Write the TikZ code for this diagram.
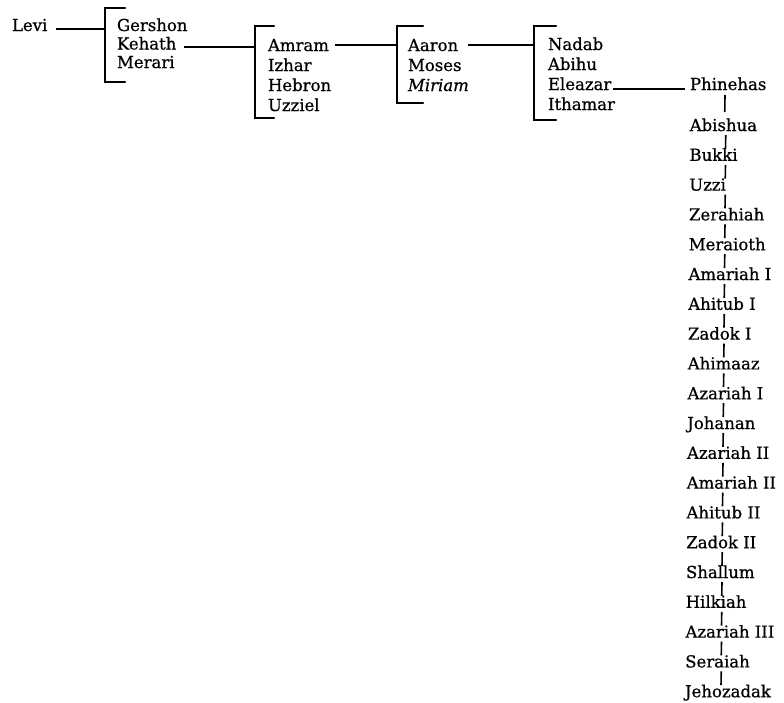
\documentclass[tikz,border=0pt]{standalone}
\usepackage{fontspec}
\setmainfont{DejaVu Serif}[FakeBold=0.7]
\usetikzlibrary{calc}
\begin{document}
\begin{tikzpicture}[x=1pt,y=-1pt,
  person/.style={anchor=base west,inner sep=0pt,outer sep=0pt,font=\fontsize{16.5}{20}\selectfont},
  link/.style={line width=1.6pt},
  bracket/.style={line width=2.3pt,line cap=round,line join=miter},
  chainlink/.style={line width=1.6pt}]
\useasboundingbox (0,0) rectangle (784,702);
\fill[white] (0,0) rectangle (784,702);

% generation 0
\node[person] (levi) at (12,31) {Levi};
% Levi's sons
\node[person] (gershon) at (117,31) {Gershon};
\node[person] (kehath) at (117,49.5) {Kehath};
\node[person] (merari) at (117,68) {Merari};
% Kehath's sons
\node[person] (amram) at (268,51) {Amram};
\node[person] (izhar) at (268,71) {Izhar};
\node[person] (hebron) at (268,91) {Hebron};
\node[person] (uzziel) at (268,111) {Uzziel};
% Amram's children
\node[person] (aaron) at (408,51) {Aaron};
\node[person] (moses) at (408,71) {Moses};
\node[person] (miriam) at (408,91) {\itshape Miriam};
% Aaron's sons
\node[person] (nadab) at (548,50) {Nadab};
\node[person] (abihu) at (548,70) {Abihu};
\node[person] (eleazar) at (548,90) {Eleazar};
\node[person] (ithamar) at (548,110) {Ithamar};

% brackets
\coordinate (b1top) at (105,8);   \coordinate (b1bot) at (105,82);
\coordinate (b2top) at (255,26);  \coordinate (b2bot) at (255,118);
\coordinate (b3top) at (397,26);  \coordinate (b3bot) at (397,103);
\coordinate (b4top) at (534,26);  \coordinate (b4bot) at (534,120);
\draw[bracket] ([xshift=20pt]b1top) -- (b1top) -- (b1bot) -- ([xshift=20pt]b1bot);
\draw[bracket] ([xshift=19pt]b2top) -- (b2top) -- (b2bot) -- ([xshift=19pt]b2bot);
\draw[bracket] ([xshift=26pt]b3top) -- (b3top) -- (b3bot) -- ([xshift=26pt]b3bot);
\draw[bracket] ([xshift=22pt]b4top) -- (b4top) -- (b4bot) -- ([xshift=22pt]b4bot);

% junctions on the brackets
\coordinate (j1) at (105,29);
\coordinate (j2) at (255,47);
\coordinate (j3) at (397,45);
\coordinate (j4) at (534,45);
\coordinate (j5) at (685,89);

\draw[link] ([xshift=9pt]j1 -| levi.east) -- (j1);
\draw[link] ([xshift=8pt]j2 -| kehath.east) -- (j2);
\draw[link] ([xshift=6pt]j3 -| amram.east) -- (j3);
\draw[link] ([xshift=10pt]j4 -| aaron.east) -- (j4);
\draw[link] ([xshift=2pt]j5 -| eleazar.east) -- (j5);

% line of high priests
\foreach \t [count=\i from 0] in {Phinehas,Abishua,Bukki,Uzzi,Zerahiah,Meraioth,Amariah I,Ahitub I,Zadok I,Ahimaaz,Azariah I,Johanan,Azariah II,Amariah II,Ahitub II,Zadok II,Shallum,Hilkiah,Azariah III,Seraiah,Jehozadak}{
  \pgfmathsetmacro\yy{\i==0 ? 90 : 131+29.8*(\i-1)}
  \pgfmathsetmacro\xx{690-0.25*\i}
  \node[person] (c\i) at (\xx,\yy) {\t};
}
\draw[chainlink] ($(c0.base west)+(35,5)$) -- ($(c1.base west)+(35,-19)$);
\foreach \i [evaluate=\i as \j using int(\i+1)] in {1,...,19}{
  \draw[chainlink] ($(c\i.base west)+(36,4)$) -- ($(c\j.base west)+(36,-12)$);
}
\end{tikzpicture}
\end{document}
